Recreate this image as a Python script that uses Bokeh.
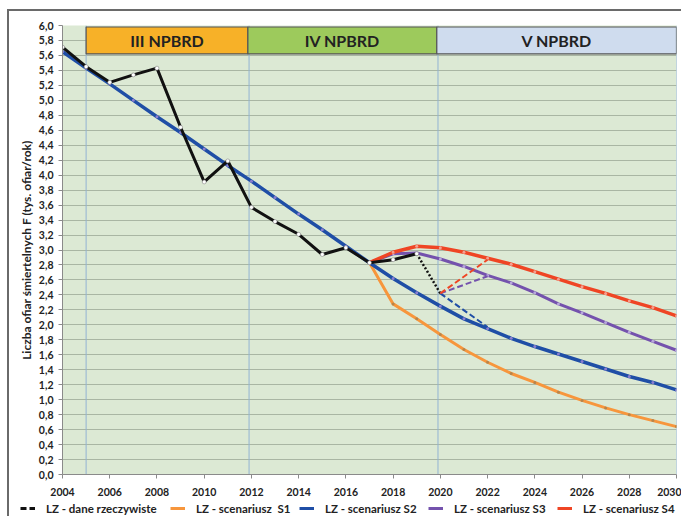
from bokeh.plotting import figure
from bokeh.layouts import column
from bokeh.models import FixedTicker, Legend, LegendItem, Span, ColumnDataSource
from bokeh.embed import file_html
from bokeh.resources import INLINE
from bokeh.core.properties import value

# ---------------- data ----------------
years_actual = list(range(2004, 2020))
actual = [5.71, 5.45, 5.24, 5.34, 5.43, 4.64, 3.91, 4.19, 3.57, 3.38, 3.21, 2.94, 3.03, 2.83, 2.87, 2.95]

years_s2 = list(range(2004, 2031))
s2 = [5.65, 5.43, 5.22, 5.00, 4.78, 4.57, 4.35, 4.13, 3.92, 3.70, 3.48, 3.27, 3.05, 2.83,
      2.62, 2.43, 2.25, 2.08, 1.95, 1.82, 1.71, 1.61, 1.51, 1.41, 1.31, 1.23, 1.13]

years_scen = list(range(2017, 2031))
s1 = [2.83, 2.28, 2.08, 1.87, 1.67, 1.50, 1.35, 1.23, 1.10, 0.99, 0.89, 0.80, 0.72, 0.64]
s3 = [2.83, 2.95, 2.96, 2.88, 2.78, 2.66, 2.56, 2.43, 2.28, 2.16, 2.03, 1.90, 1.78, 1.66]
s4 = [2.83, 2.97, 3.05, 3.03, 2.97, 2.89, 2.81, 2.71, 2.61, 2.51, 2.42, 2.32, 2.23, 2.12]

# dotted drop of actual data and dashed branches
drop_years = [2019, 2020]
drop_vals = [2.95, 2.42]
branch_years = [2020, 2022]
branch_s2 = [2.42, 1.97]
branch_s3 = [2.42, 2.65]
branch_s4 = [2.42, 2.87]

periods = ["III NPBRD", "IV NPBRD", "V NPBRD"]
period_start = [2005.0, 2011.85, 2019.85]
period_end = [2011.85, 2019.85, 2030.0]
period_colors = ["#f7b128", "#9dca5c", "#cfdcee"]
period_lines = [2005.0, 2011.9, 2019.9, 2030.0]

y_ticks = [round(i * 0.2, 1) for i in range(31)]
x_ticks = list(range(2004, 2031, 2))

labels = ["LZ - dane rzeczywiste", "LZ - scenariusz  S1", "LZ - scenariusz S2",
          "LZ - scenariusz S3", "LZ - scenariusz S4"]

# ---------------- styles ----------------
FONT = "Lato"
C_BLACK = "#111111"
C_S1 = "#f7963c"
C_S2 = "#1f4ea6"
C_S3 = "#7452ad"
C_S4 = "#ef4524"

p = figure(width=672, height=489, x_range=(2004, 2030), y_range=(0, 6),
           output_backend="svg", toolbar_location=None, frame_align=False,
           min_border_left=53, min_border_right=5, min_border_top=14, min_border_bottom=26)
p.background_fill_color = "#dce9d4"
p.border_fill_color = "white"
p.outline_line_color = None

p.xgrid.visible = False
p.ygrid.ticker = FixedTicker(ticks=y_ticks)
p.ygrid.grid_line_color = "#a9b6a3"
p.ygrid.grid_line_width = 1

p.yaxis.ticker = FixedTicker(ticks=y_ticks)
p.yaxis.major_label_overrides = {t: f"{t:.1f}".replace(".", ",") for t in y_ticks}
p.xaxis.ticker = FixedTicker(ticks=x_ticks)
p.xaxis.major_label_overrides = {t: str(t) for t in x_ticks}
for ax in (p.xaxis[0], p.yaxis[0]):
    ax.axis_line_color = "#8a8a8a"
    ax.major_tick_line_color = "#8a8a8a"
    ax.minor_tick_line_color = None
    ax.major_tick_out = 4
    ax.major_tick_in = 0
    ax.major_label_text_font = FONT
    ax.major_label_text_font_style = "bold"
    ax.major_label_text_font_size = "10.5px"
    ax.major_label_text_color = "#222222"
p.xaxis.major_label_standoff = 9
p.yaxis.major_label_standoff = 5
p.yaxis.axis_label = "Liczba ofiar śmiertelnych F (tys. ofiar/rok)"
p.yaxis.axis_label_text_font = FONT
p.yaxis.axis_label_text_font_style = "bold"
p.yaxis.axis_label_text_font_size = "12px"
p.yaxis.axis_label_text_color = "#222222"
p.yaxis.axis_label_standoff = 2

# period separator lines
for loc in period_lines:
    p.add_layout(Span(location=loc, dimension="height", line_color="#93b3d3",
                      line_width=1, level="underlay"))

# header boxes
hdr = ColumnDataSource(dict(left=period_start, right=period_end, name=periods,
                            color=period_colors,
                            mid=[(a + b) / 2 for a, b in zip(period_start, period_end)]))
p.quad(left="left", right="right", top=5.98, bottom=5.62, fill_color="color",
       line_color="#555555", line_width=1.2, source=hdr)
p.text(x="mid", y=5.80, text="name", source=hdr, text_align="center",
       text_baseline="middle", text_font=value(FONT), text_font_style="bold",
       text_font_size="16px", text_color="#222222")

# lines
p.line(years_scen, s1, line_color=C_S1, line_width=3)
p.scatter(years_scen, s1, size=3, fill_color="#b8854a", line_color=None)

p.line(years_s2, s2, line_color=C_S2, line_width=3.5)
p.scatter(years_s2, s2, size=3, fill_color="#8a7fd0", line_color=None)

p.line(years_scen, s3, line_color=C_S3, line_width=3)
p.scatter(years_scen, s3, size=3, fill_color="#b8a8dc", line_color=None)

p.line(years_scen, s4, line_color=C_S4, line_width=3.5)
p.scatter(years_scen, s4, size=3, fill_color="#f4a090", line_color=None)

p.line(drop_years, drop_vals, line_color=C_BLACK, line_width=2.5, line_dash="2 2")
p.line(branch_years, branch_s2, line_color=C_S2, line_width=2, line_dash="6 3")
p.line(branch_years, branch_s3, line_color=C_S3, line_width=2, line_dash="6 3")
p.line(branch_years, branch_s4, line_color=C_S4, line_width=2, line_dash="6 3")

p.line(years_actual, actual, line_color=C_BLACK, line_width=3)
p.scatter(years_actual, actual, size=4, fill_color="white", line_color="#777777", line_width=0.5)

# ---------------- legend strip ----------------
lg = figure(width=672, height=16, x_range=(0, 1), y_range=(0, 1),
            output_backend="svg", toolbar_location=None, frame_align=False,
            min_border_left=0, min_border_right=0, min_border_top=0, min_border_bottom=0)
lg.axis.visible = False
lg.grid.visible = False
lg.outline_line_color = None
lg.background_fill_color = "white"
lg.border_fill_color = "white"

leg_colors = [C_BLACK, C_S1, C_S2, C_S3, C_S4]
leg_dash = ["6 3", "solid", "solid", "solid", "solid"]
leg_x = [11, 161, 290, 419, 548]
# legend proxies, kept outside the visible range of the strip
for lab, col, dash, lx in zip(labels, leg_colors, leg_dash, leg_x):
    r = lg.line([5, 6], [5, 5], line_color=col, line_width=3, line_dash=dash)
    leg = Legend(items=[LegendItem(label=lab, renderers=[r])],
                 orientation="horizontal", location=(lx, 1))
    leg.background_fill_alpha = 0
    leg.border_line_color = None
    leg.label_text_font = FONT
    leg.label_text_font_style = "bold"
    leg.label_text_font_size = "11.5px"
    leg.label_text_color = "#222222"
    leg.label_height = 14
    leg.glyph_width = 15
    leg.glyph_height = 12
    leg.label_standoff = 11
    leg.spacing = 0
    leg.padding = 0
    leg.margin = 0
    lg.add_layout(leg)

layout = column(p, lg, spacing=0)
layout.styles = {"border-left": "2px solid #6a6a6a", "border-top": "2px solid #6a6a6a",
                 "margin-left": "7px", "margin-top": "9px"}

open("out.html", "w").write(file_html(layout, INLINE))
